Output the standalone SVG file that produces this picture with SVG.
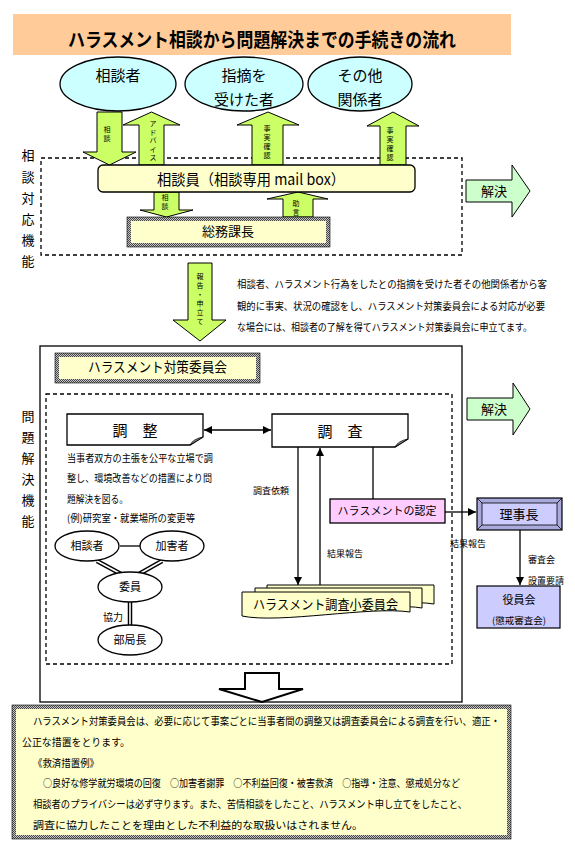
<svg xmlns="http://www.w3.org/2000/svg" width="575" height="850" viewBox="0 0 575 850">
<style>
text{font-family:"Noto Sans CJK JP","Noto Sans",sans-serif;fill:#000}
.t10{font-size:10px}
.t9{font-size:9px}
.t8{font-size:7px}
.lbl{font-size:13px;text-anchor:middle}
.garrow{fill:#CCFF66;stroke:#000;stroke-width:1}
.solve{fill:#CCFFCC;stroke:#000;stroke-width:1}
.dash{fill:none;stroke:#000;stroke-width:1.3;stroke-dasharray:4 3}
.ln{stroke:#000;stroke-width:1.3;fill:none}
.ell{fill:#CCFFFF;stroke:#000;stroke-width:1.3}
.wel{fill:#fff;stroke:#000;stroke-width:1.3}
.chk{stroke:url(#chk);stroke-width:4}
.mid{text-anchor:middle}
</style>
<defs>
<pattern id="chk" width="2" height="2" patternUnits="userSpaceOnUse"><rect width="2" height="2" fill="#c8c8c8"/><rect width="1" height="1" fill="#444"/><rect x="1" y="1" width="1" height="1" fill="#444"/></pattern>
<marker id="ah" viewBox="0 0 10 10" refX="10" refY="5" markerWidth="8" markerHeight="8" markerUnits="userSpaceOnUse" orient="auto-start-reverse"><path d="M0,0 L10,5 L0,10 z" fill="#000"/></marker>
</defs>

<g id="title">
<rect x="13" y="14" width="498" height="41" fill="#FFCC99"/>
<text x="262" y="47" font-size="19" font-weight="bold" text-anchor="middle" textLength="388" lengthAdjust="spacingAndGlyphs">ハラスメント相談から問題解決までの手続きの流れ</text>
</g>

<g id="n-soudansha"><ellipse class="ell" cx="118" cy="84" rx="58" ry="27"/><text x="118" y="81" font-size="15" class="mid">相談者</text></g>
<g id="n-shiteki"><ellipse class="ell" cx="244" cy="84" rx="59" ry="27"/><text x="244" y="81" font-size="15" class="mid">指摘を</text><text x="244" y="105" font-size="15" class="mid">受けた者</text></g>
<g id="n-sonota"><ellipse class="ell" cx="360" cy="84" rx="52" ry="27"/><text x="360" y="81" font-size="15" class="mid">その他</text><text x="360" y="105" font-size="15" class="mid">関係者</text></g>

<g id="sec1">
<rect class="dash" x="41" y="158" width="421" height="97"/>
<text class="lbl"><tspan x="28" y="160">相</tspan><tspan x="28" y="182">談</tspan><tspan x="28" y="203">対</tspan><tspan x="28" y="224">応</tspan><tspan x="28" y="245">機</tspan><tspan x="28" y="266">能</tspan></text>
</g>

<g id="connectors">
<polygon class="garrow" points="97,112 122,112 122,152 136,152 109.5,165 83,152 97,152"/>
<text class="t8 mid"><tspan x="107" y="132">相</tspan><tspan x="107" y="141">談</tspan></text>
<polygon class="garrow" points="151.5,112 180,125 164,125 164,165 139,165 139,125 123,125"/>
<text class="t8 mid"><tspan x="153" y="126">ア</tspan><tspan x="153" y="134.5">ド</tspan><tspan x="153" y="143">バ</tspan><tspan x="153" y="151.5">イ</tspan><tspan x="153" y="160">ス</tspan></text>
<polygon class="garrow" points="268,112 299,125 283,125 283,165 252,165 252,125 237,125"/>
<text class="t8 mid"><tspan x="267" y="131">事</tspan><tspan x="267" y="140">実</tspan><tspan x="267" y="149">確</tspan><tspan x="267" y="158">認</tspan></text>
<polygon class="garrow" points="393,112 419,126 406,126 406,165 380,165 380,126 367,126"/>
<text class="t8 mid"><tspan x="390" y="133">事</tspan><tspan x="390" y="142">実</tspan><tspan x="390" y="151">確</tspan><tspan x="390" y="160">認</tspan></text>
<polygon class="garrow" points="154,192 179,192 179,210 193,210 166.5,217 140,210 154,210"/>
<text class="t8 mid"><tspan x="165" y="200">相</tspan><tspan x="165" y="209">談</tspan></text>
<polygon class="garrow" points="298,192 328,199 313,199 313,217 283,217 283,199 267,199"/>
<text class="t8 mid"><tspan x="296" y="206">助</tspan><tspan x="296" y="215">言</tspan></text>
<polygon class="garrow" points="188,263 212,263 212,320 226,320 200,341 173,320 188,320"/>
<text class="t8 mid"><tspan x="200" y="279">報</tspan><tspan x="200" y="288">告</tspan><tspan x="200" y="297">・</tspan><tspan x="200" y="306">申</tspan><tspan x="200" y="315">立</tspan><tspan x="200" y="324">て</tspan></text>

<line class="ln" x1="204" y1="430" x2="271" y2="430" marker-start="url(#ah)" marker-end="url(#ah)"/>
<line class="ln" x1="298" y1="447" x2="298" y2="585" marker-end="url(#ah)"/>
<line class="ln" x1="320" y1="586" x2="320" y2="448" marker-end="url(#ah)"/>
<line class="ln" x1="373" y1="447" x2="373" y2="499"/>
<line class="ln" x1="445" y1="512" x2="476" y2="512" marker-end="url(#ah)"/>
<line class="ln" x1="520" y1="530" x2="520" y2="585" marker-end="url(#ah)"/>
<line class="ln" x1="120" y1="546" x2="140" y2="546"/>
<g stroke="#000" stroke-width="4.5"><line x1="97" y1="561" x2="121" y2="574"/><line x1="162" y1="561" x2="139" y2="574"/><line x1="130" y1="602" x2="130" y2="626"/></g>
<g stroke="#fff" stroke-width="1.6"><line x1="97" y1="561" x2="121" y2="574"/><line x1="162" y1="561" x2="139" y2="574"/><line x1="130" y1="601" x2="130" y2="627"/></g>
<text class="t9" x="253" y="494">調査依頼</text>
<text class="t9" x="327" y="557">結果報告</text>
<text class="t9" x="450" y="547">結果報告</text>
<text class="t9" x="528" y="563">審査会</text>
<text class="t9" x="528" y="584">設置要請</text>
<text class="t10" x="103" y="621">協力</text>
</g>

<g id="n-soudanin">
<rect x="98" y="165" width="317" height="27" rx="5" fill="#FFFFCC" stroke="#000" stroke-width="1.3"/>
<text x="251" y="185" font-size="15" class="mid" textLength="188" lengthAdjust="spacingAndGlyphs">相談員（相談専用 mail box）</text>
</g>

<g id="n-soumu">
<rect x="129" y="219" width="199" height="26" fill="#FFFFCC" class="chk"/>
<rect x="127" y="217" width="203" height="30" fill="none" stroke="#000" stroke-width="0.6"/>
<text x="228" y="236" font-size="13" class="mid">総務課長</text>
</g>

<g id="solve1">
<polygon class="solve" points="466,180 512,180 512,165 530,191 512,217 512,202 466,202"/>
<text x="494" y="196" font-size="13" class="mid">解決</text>
</g>

<g id="para1" class="t10">
<text x="237" y="288" textLength="310" lengthAdjust="spacingAndGlyphs">相談者、ハラスメント行為をしたとの指摘を受けた者その他関係者から客</text>
<text x="237" y="310" textLength="308" lengthAdjust="spacingAndGlyphs">観的に事実、状況の確認をし、ハラスメント対策委員会による対応が必要</text>
<text x="237" y="331" textLength="295" lengthAdjust="spacingAndGlyphs">な場合には、相談者の了解を得てハラスメント対策委員会に申立てます。</text>
</g>

<g id="sec2">
<rect x="40" y="346" width="422" height="356" fill="none" stroke="#000" stroke-width="1.3"/>
<rect class="dash" x="46" y="394" width="406" height="270"/>
<text class="lbl"><tspan x="28" y="421">問</tspan><tspan x="28" y="442">題</tspan><tspan x="28" y="463">解</tspan><tspan x="28" y="484">決</tspan><tspan x="28" y="505">機</tspan><tspan x="28" y="526">能</tspan></text>
</g>

<g id="n-taisaku">
<rect x="57" y="355" width="201" height="26" fill="#FFFFCC" class="chk"/>
<rect x="55" y="353" width="205" height="30" fill="none" stroke="#000" stroke-width="0.6"/>
<text x="88" y="372" font-size="14" textLength="139" lengthAdjust="spacingAndGlyphs">ハラスメント対策委員会</text>
</g>

<g id="n-chousei">
<path d="M67,414 H203 V437 L190,445 H67 Z" fill="#fff" stroke="#000" stroke-width="1.3"/>
<path d="M203,437 L190,445 Q193,439 203,437 Z" fill="#999" stroke="#000" stroke-width="0.8"/>
<text x="135" y="436" font-size="15" class="mid">調　整</text>
</g>
<g id="chousei-desc" class="t10">
<text x="67" y="462" textLength="146" lengthAdjust="spacingAndGlyphs">当事者双方の主張を公平な立場で調</text>
<text x="67" y="482" textLength="145" lengthAdjust="spacingAndGlyphs">整し、環境改善などの措置により問</text>
<text x="67" y="503" textLength="61" lengthAdjust="spacingAndGlyphs">題解決を図る。</text>
<text x="67" y="522" textLength="128" lengthAdjust="spacingAndGlyphs">(例)研究室・就業場所の変更等</text>
</g>

<g id="n-chousa">
<path d="M272,414 H408 V439 L395,447 H272 Z" fill="#fff" stroke="#000" stroke-width="1.3"/>
<path d="M408,439 L395,447 Q398,441 408,439 Z" fill="#999" stroke="#000" stroke-width="0.8"/>
<text x="340" y="437" font-size="15" class="mid">調　査</text>
</g>

<g id="n-e-soudansha"><ellipse class="wel" cx="87" cy="546" rx="32" ry="15"/><text x="87" y="550" font-size="11" class="mid">相談者</text></g>
<g id="n-e-kagaisha"><ellipse class="wel" cx="172" cy="546" rx="32" ry="15"/><text x="172" y="550" font-size="11" class="mid">加害者</text></g>
<g id="n-e-iin"><ellipse class="wel" cx="130" cy="587" rx="32" ry="15"/><text x="130" y="591" font-size="11" class="mid">委員</text></g>
<g id="n-e-bukyoku"><ellipse class="wel" cx="130" cy="640" rx="32" ry="15"/><text x="130" y="644" font-size="11" class="mid">部局長</text></g>

<g id="n-nintei">
<rect x="330" y="499" width="115" height="24" fill="#FFCCFF" stroke="#000" stroke-width="1.3"/>
<text x="387" y="515" font-size="11" class="mid">ハラスメントの認定</text>
</g>

<g id="n-rijichou">
<rect x="477" y="498" width="85" height="32" fill="#A9A9DD" stroke="#000" stroke-width="1.2"/>
<rect x="482" y="503" width="75" height="22" fill="#CCCCFF" stroke="#000" stroke-width="0.8"/>
<g stroke="#000" stroke-width="0.8"><line x1="477" y1="498" x2="482" y2="503"/><line x1="562" y1="498" x2="557" y2="503"/><line x1="477" y1="530" x2="482" y2="525"/><line x1="562" y1="530" x2="557" y2="525"/></g>
<text x="519" y="519" font-size="13" class="mid">理事長</text>
</g>

<g id="n-yakuin">
<rect x="477" y="586" width="83" height="42" fill="#CCCCFF" stroke="#000" stroke-width="1.2"/>
<text x="519" y="604" font-size="11" class="mid">役員会</text>
<text x="519" y="624" font-size="9.5" class="mid">(懲戒審査会)</text>
</g>

<g id="n-shouiinkai">
<path d="M267,585 H434 V604 C400,598 300,614 267,606 Z" fill="#FFFFCC" stroke="#000" stroke-width="1"/>
<path d="M255,588 H422 V608 C390,602 290,618 255,610 Z" fill="#FFFFCC" stroke="#000" stroke-width="1"/>
<path d="M242,592 H410 V612 C370,606 280,624 242,616 Z" fill="#FFFFCC" stroke="#000" stroke-width="1"/>
<text x="253" y="609" font-size="13" textLength="145" lengthAdjust="spacingAndGlyphs">ハラスメント調査小委員会</text>
</g>

<g id="solve2">
<polygon class="solve" points="467,398 513,398 513,383 530,409 513,435 513,420 467,420"/>
<text x="494" y="414" font-size="13" class="mid">解決</text>
</g>

<g id="bigarrow">
<polygon points="245,673 279,673 279,689 303,689 262,702 219,689 245,689" fill="#fff" stroke="#000" stroke-width="2"/>
</g>

<g id="n-bottom">
<rect x="14" y="707" width="495" height="130" fill="#FFFFCC" class="chk"/>
<rect x="12" y="705" width="499" height="134" fill="none" stroke="#000" stroke-width="0.6"/>
<text x="33" y="725" font-size="10.5" textLength="467" lengthAdjust="spacingAndGlyphs">ハラスメント対策委員会は、必要に応じて事案ごとに当事者間の調整又は調査委員会による調査を行い、適正・</text>
<text x="22" y="746" font-size="10.5" textLength="108" lengthAdjust="spacingAndGlyphs">公正な措置をとります。</text>
<text x="33" y="767" font-size="10.5" textLength="66" lengthAdjust="spacingAndGlyphs">《救済措置例》</text>
<text x="43" y="787" font-size="10.5" textLength="417" lengthAdjust="spacingAndGlyphs">○良好な修学就労環境の回復　○加害者謝罪　○不利益回復・被害救済　○指導・注意、懲戒処分など</text>
<text x="33" y="808" font-size="10.5" textLength="434" lengthAdjust="spacingAndGlyphs">相談者のプライバシーは必ず守ります。また、苦情相談をしたこと、ハラスメント申し立てをしたこと、</text>
<text x="33" y="829" font-size="10.5" textLength="330" lengthAdjust="spacingAndGlyphs">調査に協力したことを理由とした不利益的な取扱いはされません。</text>
</g>
</svg>
